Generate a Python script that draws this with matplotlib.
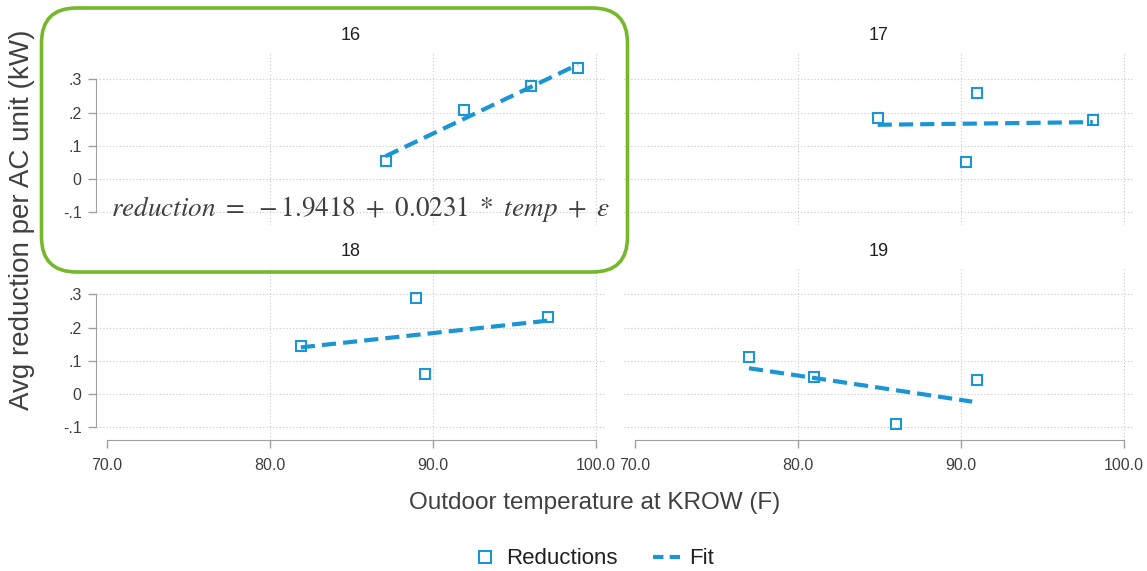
import numpy as np
import matplotlib

matplotlib.use("Agg")
import matplotlib.pyplot as plt
from matplotlib.patches import FancyBboxPatch
from matplotlib.lines import Line2D

plt.rcParams["font.family"] = ["Liberation Sans", "DejaVu Sans"]
plt.rcParams["mathtext.fontset"] = "stix"

# data, one panel per id
panels = ["16", "17", "18", "19"]
temp = {
    "16": [87.1, 91.9, 96.0, 98.9],
    "17": [84.9, 91.0, 90.3, 98.1],
    "18": [81.9, 89.0, 89.5, 97.1],
    "19": [77.0, 81.0, 86.0, 91.0],
}
reduction = {
    "16": [0.053, 0.208, 0.279, 0.335],
    "17": [0.182, 0.258, 0.049, 0.178],
    "18": [0.143, 0.290, 0.061, 0.231],
    "19": [0.111, 0.051, -0.091, 0.040],
}
fit_x = {
    "16": [87.1, 98.9],
    "17": [84.9, 98.1],
    "18": [81.9, 97.1],
    "19": [77.0, 90.7],
}
fit_y = {
    "16": [0.068, 0.345],
    "17": [0.163, 0.171],
    "18": [0.140, 0.221],
    "19": [0.077, -0.024],
}
xticks = [70, 80, 90, 100]
yticks = [-0.1, 0, 0.1, 0.2, 0.3]
ytick_labels = ["-.1", "0", ".1", ".2", ".3"]

blue = "#1b95d3"
gray_txt = "#404040"
axis_gray = "#a0a0a0"

W, H = 1147, 571
fig = plt.figure(figsize=(W / 100, H / 100), dpi=100)


def px_axes(x0, x1, y0, y1):
    # pixel box (top-left origin) -> figure fraction axes
    return fig.add_axes([x0 / W, 1 - y1 / H, (x1 - x0) / W, (y1 - y0) / H])


boxes = {
    "16": (95.5, 605.5, 53, 225),
    "17": (623.5, 1133.5, 53, 225),
    "18": (95.5, 605.5, 268, 440),
    "19": (623.5, 1133.5, 268, 440),
}

for p in panels:
    ax = px_axes(*boxes[p])
    ax.set_xlim(69.3, 100.6)
    ax.set_ylim(-0.14, 0.38)
    ax.set_xticks(xticks)
    ax.set_yticks(yticks)
    ax.set_yticklabels(ytick_labels)
    ax.set_xticklabels([f"{t:.1f}" for t in xticks])
    ax.grid(True, color="#c8c8c8", linestyle=(0, (1, 2)), linewidth=0.8)
    ax.xaxis.get_gridlines()[0].set_visible(False)
    ax.set_axisbelow(True)
    for s in ["top", "right"]:
        ax.spines[s].set_visible(False)
    ax.spines["left"].set_bounds(-0.1, 0.3)
    ax.spines["bottom"].set_bounds(70, 100)
    ax.spines["left"].set_color(axis_gray)
    ax.spines["bottom"].set_color(axis_gray)
    ax.tick_params(colors=axis_gray, labelcolor=gray_txt, labelsize=11.5,
                   length=6, width=1)
    if p in ("17", "19"):
        ax.spines["left"].set_visible(False)
        ax.tick_params(axis="y", left=False, labelleft=False)
    if p in ("16", "17"):
        ax.spines["bottom"].set_visible(False)
        ax.tick_params(axis="x", bottom=False, labelbottom=False)
    ax.tick_params(axis="x", pad=7)
    ax.tick_params(axis="y", pad=4)
    ax.plot(fit_x[p], fit_y[p], color=blue, linewidth=3,
            linestyle=(0, (3.4, 1.7)), zorder=3)
    ax.plot(temp[p], reduction[p], linestyle="none", marker="s",
            markersize=7.5, markerfacecolor="none", markeredgecolor=blue,
            markeredgewidth=1.5, zorder=4)
    ax.set_title(p, fontsize=13, color="#202020", pad=9)

fig.text(22 / W, 1 - 220 / H, "Avg reduction per AC unit (kW)", rotation=90,
         ha="center", va="center", fontsize=20, color=gray_txt)
fig.text(595 / W, 1 - 503 / H, "Outdoor temperature at KROW (F)",
         ha="center", va="center", fontsize=17.5, color=gray_txt)

# equation annotation
fig.text(360 / W, 1 - 209 / H,
         r"$reduction\ =\ -1.9418\ +\ 0.0231\ *\ temp\ +\ \varepsilon$",
         ha="center", va="center", fontsize=19.5, color="#404040")

# green rounded highlight box (in inches so corners stay round)
box = FancyBboxPatch((0.415, (H - 272) / 100), 5.86, 2.64,
                     boxstyle="round,pad=0,rounding_size=0.35",
                     transform=fig.dpi_scale_trans, fill=False,
                     edgecolor="#76b82a", linewidth=2.6)
fig.patches.append(box)

handles = [
    Line2D([], [], linestyle="none", marker="s", markersize=8,
           markerfacecolor="none", markeredgecolor=blue, markeredgewidth=1.5),
    Line2D([], [], color=blue, linewidth=3, linestyle=(0, (2.5, 1.5))),
]
fig.legend(handles, ["Reductions", "Fit"], loc="center",
           bbox_to_anchor=(592 / W, 1 - 559 / H), ncol=2, frameon=False,
           fontsize=16, handlelength=1.3, handletextpad=0.3,
           columnspacing=1.6, labelcolor="#202020")

fig.savefig("out.png", dpi=100)
